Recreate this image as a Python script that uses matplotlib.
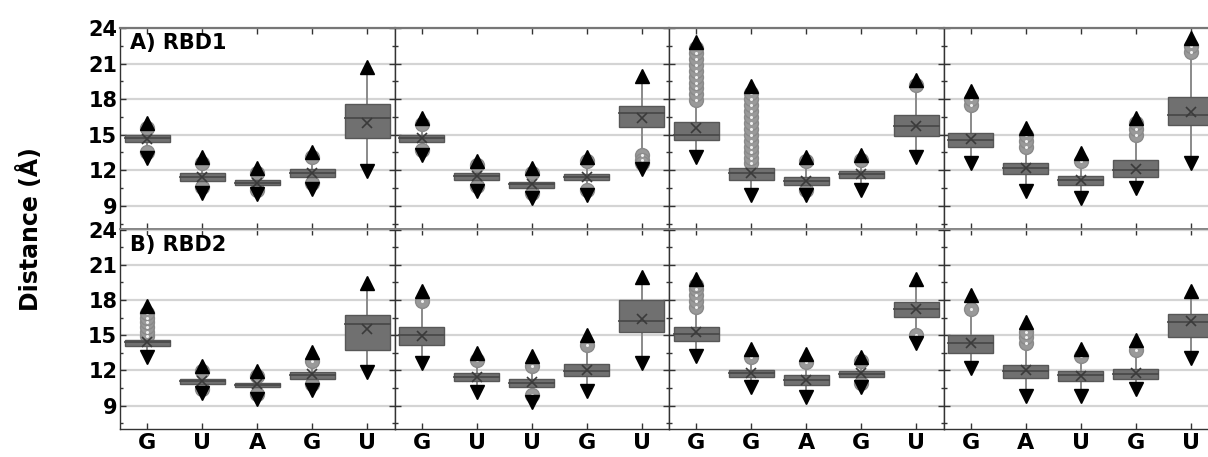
import matplotlib
matplotlib.use("Agg")
import matplotlib.pyplot as plt
from matplotlib.ticker import MultipleLocator

plt.rcParams['font.family'] = ['DejaVu Sans']
plt.rcParams['font.weight'] = 'bold'

# ---------------- data ----------------
row_titles = ["A) RBD1", "B) RBD2"]
labels = ["G", "U", "A", "G", "U",
          "G", "U", "U", "G", "U",
          "G", "G", "A", "G", "U",
          "G", "A", "U", "G", "U"]
yticks = [9, 12, 15, 18, 21, 24]

# RBD1
r1_q1 = [14.42, 11.13, 10.73, 11.40, 14.76, 14.34, 11.18, 10.53, 11.18, 15.63,
         14.56, 11.18, 10.76, 11.32, 14.90, 14.00, 11.66, 10.76, 11.40, 15.83]
r1_med = [14.70, 11.45, 10.95, 11.75, 16.40, 14.70, 11.50, 10.80, 11.45, 16.80,
          15.00, 11.75, 11.10, 11.65, 15.75, 14.56, 12.17, 11.18, 12.00, 16.70]
r1_q3 = [14.99, 11.80, 11.18, 12.08, 17.60, 14.99, 11.80, 11.04, 11.66, 17.44,
         16.11, 12.23, 11.46, 11.97, 16.68, 15.18, 12.60, 11.52, 12.87, 18.17]
r1_mean = [14.65, 11.45, 10.95, 11.75, 16.00, 14.70, 11.50, 10.80, 11.45, 16.40,
           15.60, 11.80, 11.10, 11.65, 15.75, 14.60, 12.20, 11.20, 12.10, 16.95]
r1_max = [16.0, 13.15, 12.17, 13.58, 20.68, 16.4, 12.8, 12.17, 13.15, 19.97,
          22.79, 19.13, 13.15, 13.3, 19.63, 18.65, 15.55, 13.44, 16.4, 23.15]
r1_min = [13.0, 10.1, 10.0, 10.4, 11.97, 13.3, 10.28, 9.63, 9.9, 12.08,
          13.15, 9.9, 9.9, 10.34, 13.15, 12.6, 10.28, 9.63, 10.48, 12.65]
r1_out = [[15.6, 13.5], [12.6, 10.6], [11.8, 10.3], [13.1, 10.9], [],
          [15.9, 13.7], [12.4, 10.7], [11.8, 10.1], [12.8, 10.3], [13.3, 12.9, 12.6],
          [17.9, 18.4, 18.9, 19.4, 19.9, 20.4, 20.9, 21.4, 21.9, 22.3],
          [12.6, 13.0, 13.5, 14.0, 14.5, 15.0, 15.5, 16.0, 16.5, 17.0, 17.5, 18.0, 18.5],
          [12.8, 10.3], [12.9], [19.2],
          [17.5, 18.0], [14.0, 14.5, 15.0], [12.8], [15.0, 15.5, 16.0], [22.0, 22.5]]

# RBD2
r2_q1 = [14.11, 10.85, 10.56, 11.27, 13.69, 14.20, 11.05, 10.62, 11.50, 15.25,
         14.54, 11.41, 10.76, 11.41, 16.53, 13.46, 11.33, 11.05, 11.27, 14.82]
r2_med = [14.40, 11.05, 10.75, 11.60, 15.96, 14.97, 11.42, 10.96, 11.98, 16.24,
          15.10, 11.76, 11.19, 11.70, 17.24, 14.31, 11.98, 11.56, 11.70, 16.10]
r2_q3 = [14.60, 11.22, 10.93, 11.84, 16.70, 15.68, 11.78, 11.27, 12.55, 17.95,
         15.73, 12.07, 11.56, 11.98, 17.86, 14.97, 12.49, 11.98, 12.13, 16.81]
r2_mean = [14.40, 11.10, 10.80, 11.65, 15.53, 14.95, 11.45, 11.00, 12.00, 16.40,
           15.30, 11.80, 11.20, 11.75, 17.24, 14.35, 12.05, 11.55, 11.75, 16.24]
r2_max = [17.44, 12.4, 11.9, 13.6, 19.43, 18.74, 13.49, 13.18, 14.97, 19.99,
          19.8, 13.83, 13.4, 13.12, 19.8, 18.46, 16.1, 13.83, 14.6, 18.8]
r2_min = [13.12, 10.05, 9.57, 10.33, 11.84, 12.6, 10.14, 9.28, 10.2, 12.6,
          13.26, 10.56, 9.7, 10.56, 14.3, 12.18, 9.77, 9.77, 10.42, 13.06]
r2_out = [[14.9, 15.3, 15.7, 16.1, 16.5, 16.9], [11.9, 10.4], [11.5, 10.0], [12.8, 10.8], [],
          [17.9], [12.9], [12.4, 9.9], [14.2], [],
          [17.4, 17.9, 18.4, 18.9, 19.3], [13.1], [12.7], [12.8, 10.9], [15.0],
          [17.2], [14.3, 14.8, 15.3], [13.2], [13.7], []]

rows = [
    (r1_q1, r1_med, r1_q3, r1_mean, r1_min, r1_max, r1_out),
    (r2_q1, r2_med, r2_q3, r2_mean, r2_min, r2_max, r2_out),
]

# ---------------- layout ----------------
W, H = 1208, 457
fig = plt.figure(figsize=(W / 100, H / 100), dpi=100)

left_px, panel_w = 120, 274.5
row_px = [(28, 229.5), (229.5, 429)]

box_face = '#707070'
box_edge = '#575757'
whisk_c = '#8a8a8a'
out_face = '#999999'

for r, (q1, med, q3, mean, vmin, vmax, outs) in enumerate(rows):
    top, bot = row_px[r]
    for p in range(4):
        x0 = left_px + p * panel_w
        ax = fig.add_axes([x0 / W, 1 - bot / H, panel_w / W, (bot - top) / H])
        ax.set_xlim(0, 5)
        ax.set_ylim(7, 24)
        ax.yaxis.grid(True, color='#d4d4d4', linewidth=1.6, zorder=0)
        ax.set_axisbelow(True)
        for k in range(5):
            i = p * 5 + k
            x = k + 0.5
            ax.plot([x, x], [vmin[i], vmax[i]], color=whisk_c, lw=1.4, zorder=2)
            if outs[i]:
                ax.plot([x] * len(outs[i]), outs[i], 'o', ms=10, mfc=out_face,
                        mec='#8a8a8a', mew=1.0, zorder=3)
                ax.plot([x] * len(outs[i]), outs[i], 'o', ms=2.2, mfc='#f0f0f0',
                        mec='none', zorder=3.1)
            ax.bar(x, q3[i] - q1[i], bottom=q1[i], width=0.82, color=box_face,
                   edgecolor=box_edge, linewidth=1.0, zorder=4)
            ax.plot([x - 0.41, x + 0.41], [med[i], med[i]], color='#4a4a4a',
                    lw=1.3, zorder=5)
            ax.plot(x, mean[i], 'x', ms=7, mec='#3a3a3a', mew=1.2, zorder=6)
            ax.plot(x, vmax[i], '^', ms=10, color='black', zorder=6)
            ax.plot(x, vmin[i], 'v', ms=10, color='black', zorder=6)

        ax.set_xticks([k + 0.5 for k in range(5)])
        if r == 1:
            ax.set_xticklabels(labels[p * 5:(p + 1) * 5], fontsize=16,
                               fontweight='bold')
        else:
            ax.set_xticklabels([])
        ax.set_yticks(yticks)
        ax.yaxis.set_minor_locator(MultipleLocator(1.5))
        ax.tick_params(axis='x', direction='in', top=True, bottom=True,
                       length=4, width=1, pad=3, colors='#333333',
                       labelcolor='black')
        ax.tick_params(axis='y', which='both', direction='in', left=True,
                       right=True, width=1, colors='#333333', labelcolor='black')
        ax.tick_params(axis='y', which='major', length=4)
        ax.tick_params(axis='y', which='minor', length=2.5)
        if p == 0:
            ax.set_yticklabels([str(t) for t in yticks], fontsize=15,
                               fontweight='bold')
            ax.tick_params(axis='y', pad=2)
            ax.text(0.18, 22.7, row_titles[r], fontsize=15, fontweight='bold',
                    va='center', ha='left')
        else:
            ax.set_yticklabels([])
        for s in ax.spines.values():
            s.set_color('#333333')
            s.set_linewidth(1.0)
        ax.spines['top'].set_color('#777777')
        ax.spines['top'].set_linewidth(1.6 if r == 0 else 1.2)

fig.text(30 / W, 1 - 229 / H, 'Distance (Å)', rotation=90, fontsize=17,
         fontweight='bold', ha='center', va='center')

fig.savefig('out.png', dpi=100)
